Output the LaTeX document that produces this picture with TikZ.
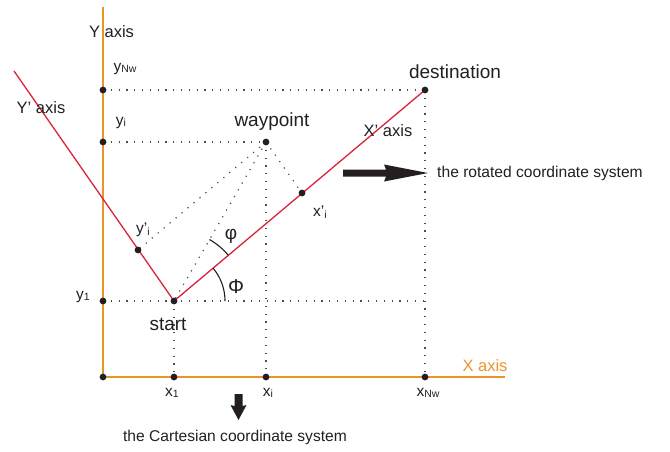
\documentclass[tikz,border=0pt]{standalone}
\usepackage{fontspec}
\setmainfont{Liberation Sans}
\definecolor{axisorange}{RGB}{237,148,40}
\definecolor{axisred}{RGB}{218,34,58}
\definecolor{inkc}{RGB}{35,31,32}
\newcommand{\lsub}[1]{\raisebox{-1.5pt}{\fontsize{10.5}{10.5}\selectfont #1}}
\begin{document}
\begin{tikzpicture}[x=1pt,y=-1pt,
  dot/.style={circle,fill=inkc,inner sep=0pt,minimum size=6.8pt},
  axisline/.style={draw=axisorange,line width=1.6pt},
  redaxis/.style={draw=axisred,line width=1.3pt},
  dotline/.style={draw=inkc!80,line width=1.2pt,dash pattern=on 1.2pt off 6.6pt},
  lbl/.style={inner sep=0pt,text=inkc},
  big/.style={lbl,font=\fontsize{19}{22}\selectfont},
  axl/.style={lbl,font=\fontsize{16.5}{19}\selectfont},
  small/.style={lbl,font=\fontsize{15.6}{18}\selectfont},
  coordl/.style={lbl,font=\fontsize{15.5}{18}\selectfont},
  anglearc/.style={draw=inkc,line width=1.1pt},
  fatarrow/.style={fill=inkc,draw=none}
]
\useasboundingbox (0,0) rectangle (670,451);

% positions
\coordinate (O) at (103,377);
\coordinate (ytop) at (103,7);
\coordinate (xend) at (505,377);
\coordinate (yNw) at (103,90);
\coordinate (yi) at (103,142);
\coordinate (y1) at (103,301);
\coordinate (start) at (174,301);
\coordinate (wp) at (266,142);
\coordinate (dest) at (425,90);
\coordinate (xpi) at (302,193);
\coordinate (ypi) at (138,250);
\coordinate (x1) at (174,377);
\coordinate (xi) at (266,377);
\coordinate (xNw) at (425,377);
\coordinate (ypend) at (14,71);
\coordinate (hend) at (425,301);

% dotted guide lines
\draw[dotline] (yNw) -- (dest);
\draw[dotline] (yi) -- (wp);
\draw[dotline] (y1) -- (hend);
\draw[dotline] (dest) -- (xNw);
\draw[dotline] (wp) -- (xi);
\draw[dotline] (start) -- (x1);
\draw[dotline] (wp) -- (xpi);
\draw[dotline] (wp) -- (ypi);
\draw[dotline] (wp) -- (start);

% axes
\draw[axisline] (ytop) -- (O) -- (xend);
\draw[redaxis] (ypend) -- (start) -- (dest);

% angle arcs
\draw[anglearc] plot[domain=0:40.05,samples=30] ({174+51*cos(\x)},{301-51*sin(\x)});
\draw[anglearc] plot[domain=40.05:60,samples=30] ({174+71*cos(\x)},{301-71*sin(\x)});

% dots
\foreach \p in {O,yNw,yi,y1,start,wp,dest,xpi,ypi,x1,xi,xNw}
  \node[dot] (d\p) at (\p) {};

% fat arrows
\fill[fatarrow] (343,169.5) -- (386,169.5) -- (384,164.5) -- (428,173) -- (384,181.5) -- (386,176.5) -- (343,176.5) -- cycle;
\fill[fatarrow] (234.5,394) -- (242.5,394) -- (242.5,406) -- (246.5,405) -- (238.5,420) -- (230.5,405) -- (234.5,406) -- cycle;

% labels
\node[axl] (lYaxis) at (111.5,32) {Y axis};
\node[axl] (lYpaxis) at (41,108) {Y’ axis};
\node[axl] (lXpaxis) at (388,131) {X’ axis};
\node[axl,text=axisorange] (lXaxis) at (485,366) {X axis};
\node[big] (lwp) at (272,122) {waypoint};
\node[big] (ldest) at (455,72) {destination};
\node[big] (lstart) at (168,324) {start};
\node[small] (lrot) at (540,173) {the rotated coordinate system};
\node[small] (lcart) at (235,437) {the Cartesian coordinate system};
\node[coordl] (lyNw) at (125,69) {y\lsub{Nw}};
\node[coordl] (lyi) at (121,123) {y\lsub{i}};
\node[coordl] (ly1) at (83,297) {y\lsub{1}};
\node[coordl] (lxpi) at (320,212) {x’\lsub{i}};
\node[coordl] (lypi) at (143,230) {y’\lsub{i}};
\node[coordl] (lx1) at (172,393) {x\lsub{1}};
\node[coordl] (lxi) at (268,393) {x\lsub{i}};
\node[coordl] (lxNw) at (428,393) {x\lsub{Nw}};
\node[lbl,font=\fontsize{19}{22}\selectfont] (lphi) at (231,236) {φ};
\node[lbl,font=\fontsize{20}{22}\selectfont] (lPhi) at (236,287) {Φ};
\end{tikzpicture}
\end{document}
